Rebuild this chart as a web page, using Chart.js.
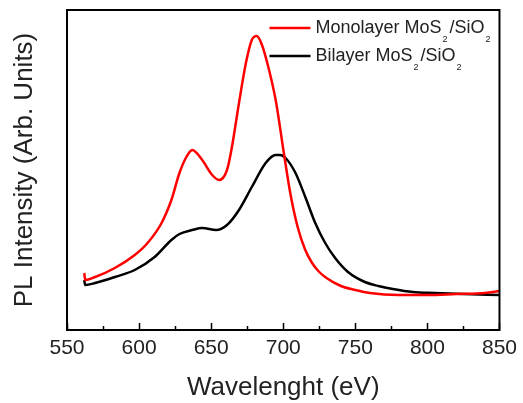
<!DOCTYPE html>
<html>
<head>
<meta charset="utf-8">
<script src="https://cdn.jsdelivr.net/npm/chart.js@4"></script>
<style>
  html, body { margin: 0; padding: 0; background: #fff; }
  #wrap { width: 523px; height: 403px; }
</style>
</head>
<body>
<div id="wrap"><canvas id="chart" width="523" height="403"></canvas></div>
<script>
// Monolayer MoS2/SiO2 (red)
const monoWl = [562.0, 562.6, 569.5, 583.2, 597, 605.9, 615.6, 622.4, 628, 632.8, 636.9, 643.8, 650.7, 655.5, 661, 664.4, 669.3, 674.1, 678.2, 681.6, 685, 690, 695, 700, 705, 710, 715, 720, 725, 730, 740, 750, 760, 780, 800, 820, 840, 850];
const monoPL = [57, 50, 53, 62, 75, 87, 107, 130, 157, 173, 180, 170, 155, 150, 160, 183, 227, 267, 290, 294, 286, 261, 228, 181, 136, 103, 81, 67, 58, 52, 44, 40, 37, 35, 35, 36, 37, 39];

// Bilayer MoS2/SiO2 (black)
const biWl = [562.0, 562.6, 569.5, 583.2, 597, 610.8, 622.4, 628, 636.9, 643.8, 653.5, 661, 669.3, 678.2, 687.8, 694.7, 698, 701.6, 708.5, 715.3, 722.2, 729.1, 736, 744.9, 756.6, 766, 776, 790, 805, 825, 850];
const biPL = [50, 45, 47, 53, 60, 73, 90, 96, 100, 102, 100, 105, 120, 143, 167, 175, 175, 172, 157, 133, 107, 87, 72, 58, 48, 44, 41, 38, 37, 36, 35];

const xTicks = [550, 600, 650, 700, 750, 800, 850];
const seriesNames = [['Monolayer MoS', '2', '/SiO', '2'], ['Bilayer MoS', '2', '/SiO', '2']];
const seriesColors = ['#ff0000', '#000000'];

const toPoints = (xs, ys) => xs.map((x, i) => ({ x: x, y: ys[i] }));

// frame, inward ticks and the legend with subscripts
const framePlugin = {
    id: 'frame',
    afterDatasetsDraw(chart) {
        const { ctx, chartArea: a, scales } = chart;
        const xs = scales.x;
        ctx.save();
        ctx.strokeStyle = '#000';
        ctx.lineWidth = 1.5;
        ctx.beginPath();
        xTicks.forEach((v, i) => {
            const px = Math.round(xs.getPixelForValue(v)) + 0.5;
            ctx.moveTo(px, a.bottom);
            ctx.lineTo(px, a.bottom - 7);
            if (i < xTicks.length - 1) {
                const mx = Math.round(xs.getPixelForValue((v + xTicks[i + 1]) / 2)) + 0.5;
                ctx.moveTo(mx, a.bottom);
                ctx.lineTo(mx, a.bottom - 4);
            }
        });
        ctx.stroke();
        ctx.lineWidth = 2;
        ctx.strokeRect(a.left, a.top, a.right - a.left, a.bottom - a.top);

        // legend
        const rows = [27, 55];
        seriesNames.forEach((parts, i) => {
            const y = a.top + rows[i] - 9;
            ctx.strokeStyle = seriesColors[i];
            ctx.lineWidth = 2.5;
            ctx.beginPath();
            ctx.moveTo(a.right - 230, y);
            ctx.lineTo(a.right - 189, y);
            ctx.stroke();
            let x = a.right - 184;
            ctx.fillStyle = '#222';
            ctx.textBaseline = 'middle';
            ctx.textAlign = 'left';
            parts.forEach((p, j) => {
                if (j % 2 === 0) {
                    ctx.font = '18px "Liberation Sans", Arial, sans-serif';
                    ctx.fillText(p, x, y);
                    x += ctx.measureText(p).width + 1;
                } else {
                    ctx.font = '9px "Liberation Sans", Arial, sans-serif';
                    ctx.fillText(p, x, y + 12);
                    x += ctx.measureText(p).width + 2;
                }
            });
        });
        ctx.restore();
    }
};

new Chart(document.getElementById('chart'), {
    type: 'line',
    data: {
        datasets: [
            {
                label: 'Monolayer MoS2/SiO2',
                data: toPoints(monoWl, monoPL),
                borderColor: seriesColors[0],
                borderWidth: 2.5,
                pointRadius: 0,
                cubicInterpolationMode: 'monotone',
                fill: false
            },
            {
                label: 'Bilayer MoS2/SiO2',
                data: toPoints(biWl, biPL),
                borderColor: seriesColors[1],
                borderWidth: 2.5,
                pointRadius: 0,
                cubicInterpolationMode: 'monotone',
                fill: false
            }
        ]
    },
    options: {
        responsive: false,
        animation: false,
        layout: { padding: { top: 10, right: 20, left: 9, bottom: 0 } },
        plugins: {
            legend: { display: false },
            tooltip: { enabled: false }
        },
        scales: {
            x: {
                type: 'linear',
                min: 550,
                max: 850,
                afterBuildTicks: (scale) => { scale.ticks = xTicks.map(v => ({ value: v })); },
                afterFit: (scale) => { scale.height = 73; },
                grid: { display: false, drawTicks: false },
                border: { display: false },
                ticks: {
                    padding: 6,
                    color: '#222',
                    font: { family: '"Liberation Sans", Arial, sans-serif', size: 21 }
                },
                title: {
                    display: true,
                    text: 'Wavelenght (eV)',
                    color: '#222',
                    padding: { top: 0, bottom: 0 },
                    font: { family: '"Liberation Sans", Arial, sans-serif', size: 26 }
                }
            },
            y: {
                min: 0,
                max: 320,
                afterFit: (scale) => { scale.width = 58; },
                grid: { display: false, drawTicks: false },
                border: { display: false },
                ticks: { display: false },
                title: {
                    display: true,
                    text: 'PL Intensity (Arb. Units)',
                    color: '#222',
                    padding: { top: 0, bottom: 0 },
                    font: { family: '"Liberation Sans", Arial, sans-serif', size: 26 }
                }
            }
        }
    },
    plugins: [framePlugin]
});
</script>
</body>
</html>
